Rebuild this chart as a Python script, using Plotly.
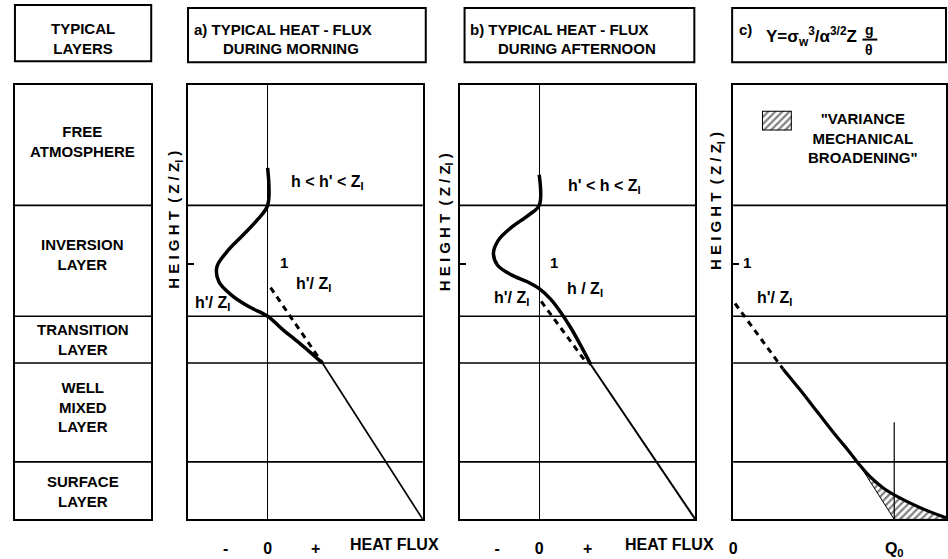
import plotly.graph_objects as go

W, H = 948, 559

# ---------------- data (height in Z/Zi, heat flux normalised to surface value) ----------------
layer_names = ["FREE<br>ATMOSPHERE", "INVERSION<br>LAYER", "TRANSITION<br>LAYER",
               "WELL<br>MIXED<br>LAYER", "SURFACE<br>LAYER"]
layer_bounds = [1.229, 0.795, 0.612, 0.225]
z_top = 1.70

# a) morning
a_flux = [0.0, 0.0, -0.064, -0.160, -0.263, -0.327, -0.314, -0.237, -0.122, 0.0, 0.096, 0.205, 0.288, 0.353]
a_z = [1.376, 1.229, 1.174, 1.112, 1.047, 0.988, 0.930, 0.880, 0.833, 0.795, 0.744, 0.690, 0.647, 0.612]
a_lin_flux = [0.353, 1.0]
a_lin_z = [0.612, 0.0]
a_dash_flux = [0.019, 0.353]
a_dash_z = [0.907, 0.612]

# b) afternoon
b_flux = [0.0, 0.0, -0.070, -0.178, -0.261, -0.293, -0.268, -0.178, -0.076, 0.0, 0.070, 0.134, 0.204, 0.268, 0.331]
b_z = [1.349, 1.229, 1.190, 1.143, 1.093, 1.043, 0.996, 0.957, 0.930, 0.903, 0.864, 0.814, 0.748, 0.678, 0.605]
b_lin_flux = [0.331, 1.0]
b_lin_z = [0.605, 0.0]
b_dash_flux = [0.013, 0.299]
b_dash_z = [0.853, 0.616]

# c) Y parameter
c_flux = [0.233, 0.312, 0.395, 0.479, 0.540, 0.591, 0.640, 0.700, 0.777, 0.893, 0.995]
c_z = [0.589, 0.508, 0.419, 0.329, 0.268, 0.213, 0.167, 0.124, 0.085, 0.039, 0.006]
c_dash_flux = [0.009, 0.233]
c_dash_z = [0.845, 0.589]
Q0 = 0.753
q0_line_top = 0.38
hatch_start = 5  # index in c curve where broadening begins

x_ticks_ab = [-0.27, 0.0, 0.31]
x_ticktext_ab = ["-", "0", "+"]

# ---------------- helpers ----------------
def px(x):
    return x / W

def py(y):
    return 1 - y / H

FONT = "Liberation Sans, Arial, sans-serif"
BLACK = "black"
HATCH = dict(shape="/", fgcolor=BLACK, bgcolor="white", size=5, solidity=0.45)

fig = go.Figure()

ydom = [py(525), py(86)]
axes = {
    "layers": dict(xa="x", ya="y", dom=[px(11), px(148)], rng=[0, 1]),
    "a": dict(xa="x2", ya="y2", dom=[px(185), px(421)], rng=[-0.513, 1.0]),
    "b": dict(xa="x3", ya="y3", dom=[px(458), px(695)], rng=[-0.51, 1.0]),
    "c": dict(xa="x4", ya="y4", dom=[px(733), px(947)], rng=[0.0, 0.995]),
}

def solid(xs, ys, xa, ya, w, spline=True):
    fig.add_trace(go.Scatter(x=xs, y=ys, xaxis=xa, yaxis=ya, mode="lines",
                             line=dict(color=BLACK, width=w, shape="spline" if spline else "linear"),
                             showlegend=False, hoverinfo="skip"))

def dashed(xs, ys, xa, ya):
    fig.add_trace(go.Scatter(x=xs, y=ys, xaxis=xa, yaxis=ya, mode="lines",
                             line=dict(color=BLACK, width=3, dash="6px,5px"),
                             showlegend=False, hoverinfo="skip"))

# panel a
solid(a_flux, a_z, "x2", "y2", 3.5)
solid(a_lin_flux, a_lin_z, "x2", "y2", 1.7, spline=False)
dashed(a_dash_flux, a_dash_z, "x2", "y2")
# panel b
solid(b_flux, b_z, "x3", "y3", 3.5)
solid(b_lin_flux, b_lin_z, "x3", "y3", 2.0, spline=False)
dashed(b_dash_flux, b_dash_z, "x3", "y3")
# panel c
hx = c_flux[hatch_start:] + [c_flux[-1], Q0, c_flux[hatch_start]]
hy = c_z[hatch_start:] + [0.0, 0.0, c_z[hatch_start]]
fig.add_trace(go.Scatter(x=hx, y=hy, xaxis="x4", yaxis="y4", mode="lines", fill="toself",
                         line=dict(color=BLACK, width=1),
                         fillcolor="white", fillpattern=HATCH,
                         showlegend=False, hoverinfo="skip"))
solid(c_flux, c_z, "x4", "y4", 3.2)
dashed(c_dash_flux, c_dash_z, "x4", "y4")
solid([Q0, Q0], [0, q0_line_top], "x4", "y4", 1.2, spline=False)

# legend swatch (own small axis)
fig.add_trace(go.Scatter(x=[0, 1, 1, 0, 0], y=[0, 0, 1, 1, 0], xaxis="x5", yaxis="y5", mode="lines",
                         fill="toself", fillcolor="white", line=dict(color=BLACK, width=2),
                         fillpattern=HATCH, showlegend=False, hoverinfo="skip"))

layout = dict(width=W, height=H, margin=dict(l=0, r=0, t=0, b=0),
              paper_bgcolor="white", plot_bgcolor="white", showlegend=False,
              font=dict(family=FONT, size=15, color=BLACK))

shapes = []
for key, a in axes.items():
    xn = "xaxis" + a["xa"][1:]
    yn = "yaxis" + a["ya"][1:]
    xax = dict(domain=a["dom"], range=a["rng"], showline=True, mirror=True, linecolor=BLACK,
               linewidth=2, showgrid=False, zeroline=False, anchor=a["ya"], fixedrange=True,
               showticklabels=False, ticks="")
    yax = dict(domain=ydom, range=[0, z_top], showline=True, mirror=True, linecolor=BLACK,
               linewidth=2, showgrid=False, zeroline=False, anchor=a["xa"], fixedrange=True,
               showticklabels=False, ticks="")
    if key in ("a", "b"):
        xax.update(zeroline=True, zerolinecolor=BLACK, zerolinewidth=1.3,
                   tickvals=x_ticks_ab, ticktext=["<b>%s</b>" % t for t in x_ticktext_ab],
                   showticklabels=True, ticks="outside", ticklen=13, tickcolor="rgba(0,0,0,0)",
                   tickfont=dict(family=FONT, size=16, color=BLACK))
    if key == "c":
        xax.update(tickvals=[0, Q0], ticktext=["<b>0</b>", "<b>Q<sub>0</sub></b>"], showticklabels=True,
                   ticks="outside", ticklen=13, tickcolor="rgba(0,0,0,0)",
                   tickfont=dict(family=FONT, size=16, color=BLACK))
    if key != "layers":
        yax.update(ticks="inside", tickvals=[1], ticklen=6, tickwidth=1.5, tickcolor=BLACK)
    if a["xa"] == "x":
        layout["xaxis"] = xax
        layout["yaxis"] = yax
    else:
        layout[xn] = xax
        layout[yn] = yax
    for b in layer_bounds:
        shapes.append(dict(type="line", xref=a["xa"] + " domain", yref=a["ya"], x0=0, x1=1, y0=b, y1=b,
                           line=dict(color=BLACK, width=1.6), layer="below"))

layout["xaxis5"] = dict(domain=[px(762), px(792)], range=[0, 1], visible=False, anchor="y5", fixedrange=True)
layout["yaxis5"] = dict(domain=[py(132), py(112)], range=[0, 1], visible=False, anchor="x5", fixedrange=True)

# header boxes
for (x0, y0, x1, y1) in [(11, 5, 148, 62), (185, 8, 424, 63), (463, 8, 694, 63), (732, 8, 947, 63)]:
    shapes.append(dict(type="rect", xref="paper", yref="paper", x0=px(x0), x1=px(x1), y0=py(y1), y1=py(y0),
                       line=dict(color=BLACK, width=2)))
# fraction bar g/theta
shapes.append(dict(type="line", xref="paper", yref="paper", x0=px(863), x1=px(878), y0=py(40), y1=py(40),
                   line=dict(color=BLACK, width=2)))
layout["shapes"] = shapes

ann = []
def T(text, x, y, size=15, xanchor="center", yanchor="middle", angle=0):
    ann.append(dict(text="<b>%s</b>" % text, x=px(x), y=py(y), xref="paper", yref="paper",
                    showarrow=False, xanchor=xanchor, yanchor=yanchor, textangle=angle,
                    font=dict(family=FONT, size=size, color=BLACK)))

# headers
T("TYPICAL<br>LAYERS", 79, 39)
T("a) TYPICAL HEAT - FLUX", 189, 30, xanchor="left")
T("DURING MORNING", 218, 49, xanchor="left")
T("b) TYPICAL HEAT - FLUX", 466, 30, xanchor="left")
T("DURING AFTERNOON", 495, 49, xanchor="left")
T("c)", 737, 30, xanchor="left")
T("Y=σ<sub>w</sub><sup>3</sup>/α<sup>3/2</sup>Z", 764, 37, size=17, xanchor="left")
T("g", 870, 30, size=14)
T("θ", 870, 51, size=14)

# layer names
layer_y = [143, 257, 343, 411, 497]
for name, yy in zip(layer_names, layer_y):
    T(name, 79, yy, size=15)

# height labels
for xx, yy in [(172, 222), (444, 225), (717, 203)]:
    T("H E I G H T  ( Z / Z<sub>I</sub> )", xx, yy, size=15, angle=-90)

# panel a labels
T("h &lt; h' &lt; Z<sub>I</sub>", 325, 184, size=16)
T("1", 281, 265)
T("h'/ Z<sub>I</sub>", 311, 288, size=16)
T("h'/ Z<sub>I</sub>", 210, 307, size=16)
# panel b labels
T("h' &lt; h &lt; Z<sub>I</sub>", 604, 189, size=16)
T("1", 553, 265)
T("h / Z<sub>I</sub>", 584, 293, size=16)
T("h'/ Z<sub>I</sub>", 510, 302, size=16)
# panel c labels
T("1", 747, 265)
T("h'/ Z<sub>I</sub>", 775, 302, size=16)
T("\"VARIANCE<br>MECHANICAL<br>BROADENING\"", 806, 140, size=15, xanchor="left")

# x labels
T("HEAT FLUX", 393, 550, size=16)
T("HEAT FLUX", 669, 550, size=16)

layout["annotations"] = ann
fig.update_layout(**layout)
fig.write_html("out.html")
